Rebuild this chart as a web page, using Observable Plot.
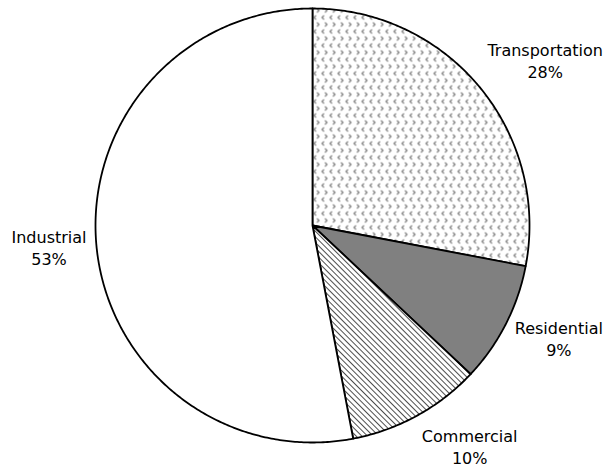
<!DOCTYPE html>
<html>
<head>
<meta charset="utf-8">
<script src="https://cdn.jsdelivr.net/npm/d3@7"></script>
<script src="https://cdn.jsdelivr.net/npm/@observablehq/plot@0.6"></script>
<style>
  html, body { margin: 0; padding: 0; background: #fff; }
  #chart { width: 607px; height: 473px; }
</style>
</head>
<body>
<div id="chart"></div>
<script>
// Data
const categories = ["Transportation", "Residential", "Commercial", "Industrial"];
const shares = [28, 9, 10, 53];
const fills = ["url(#pat-dots)", "#808080", "url(#pat-hatch)", "#ffffff"];

const FONT = "'DejaVu Sans', sans-serif";
const FONT_SIZE = 16;
const R = 217; // pixel radius (used only for label offsets)

// text width measurement for label placement
const ctx = document.createElement("canvas").getContext("2d");
ctx.font = `${FONT_SIZE}px 'DejaVu Sans'`;
const textWidth = (lines) => d3.max(lines, l => ctx.measureText(l).width);

// Build pie slices (clockwise from 12 o'clock), unit radius, y pointing down
const total = d3.sum(shares);
let acc = 0;
const slices = categories.map((c, i) => {
  const a0 = acc / total * 2 * Math.PI;
  acc += shares[i];
  const a1 = acc / total * 2 * Math.PI;
  const n = Math.max(8, Math.ceil((a1 - a0) / 0.01));
  const ring = [[0, 0]];
  for (let k = 0; k <= n; k++) {
    const a = a0 + (a1 - a0) * k / n;
    ring.push([Math.sin(a), -Math.cos(a)]);
  }
  ring.push([0, 0]);
  const mid = (a0 + a1) / 2;
  const r = 1 + 10 / R;
  const lines = [c, `${shares[i]}%`];
  const w = textWidth(lines);
  const side = Math.sin(mid) >= 0 ? 1 : -1;
  return {
    name: c, share: shares[i], fill: fills[i], lines,
    geometry: {type: "Polygon", coordinates: [ring]},
    lx: r * Math.sin(mid) + side * (w / 2) / R,
    ly: -r * Math.cos(mid) + (-Math.cos(mid) * 28 - 3) / R
  };
});

const features = slices.map(s => ({type: "Feature", properties: s, geometry: s.geometry}));

function defs() {
  const d = d3.create("svg:defs");
  const p1 = d.append("pattern").attr("id", "pat-dots").attr("patternUnits", "userSpaceOnUse")
    .attr("width", 8).attr("height", 14);
  p1.append("rect").attr("width", 8).attr("height", 14).attr("fill", "#fff");
  p1.append("path").attr("d", "M3.5,1 L1.5,3 L3.5,5").attr("fill", "none").attr("stroke", "#777").attr("stroke-width", 1.1);
  p1.append("path").attr("d", "M4.5,8 L6.5,10 L4.5,12").attr("fill", "none").attr("stroke", "#777").attr("stroke-width", 1.1);
  const p2 = d.append("pattern").attr("id", "pat-hatch").attr("patternUnits", "userSpaceOnUse")
    .attr("width", 4).attr("height", 4).attr("patternTransform", "rotate(45)");
  p2.append("rect").attr("width", 4).attr("height", 4).attr("fill", "#fff");
  p2.append("line").attr("x1", 0).attr("y1", 0).attr("x2", 4).attr("y2", 0)
    .attr("stroke", "#222").attr("stroke-width", 1.6);
  return d.node();
}

const labels = slices.map(s => ({x: s.lx, y: s.ly, text: s.lines.join("\n")}));

const chart = Plot.plot({
  width: 607,
  height: 473,
  marginLeft: 95,
  marginRight: 78,
  marginTop: 8,
  marginBottom: 31,
  projection: {type: "identity", clip: false, domain: {type: "MultiPoint", coordinates: [[-1, -1], [1, 1]]}},
  style: {fontFamily: FONT, background: "#fff"},
  marks: [
    defs,
    Plot.geo(features, {fill: d => d.properties.fill, stroke: "#000", strokeWidth: 1.8, strokeLinejoin: "round", clip: false}),
    Plot.text(labels, {x: "x", y: "y", text: "text", fontSize: FONT_SIZE, fill: "#000", lineHeight: 1.38, textAnchor: "middle", clip: false})
  ]
});
document.getElementById("chart").appendChild(chart);
</script>
</body>
</html>
